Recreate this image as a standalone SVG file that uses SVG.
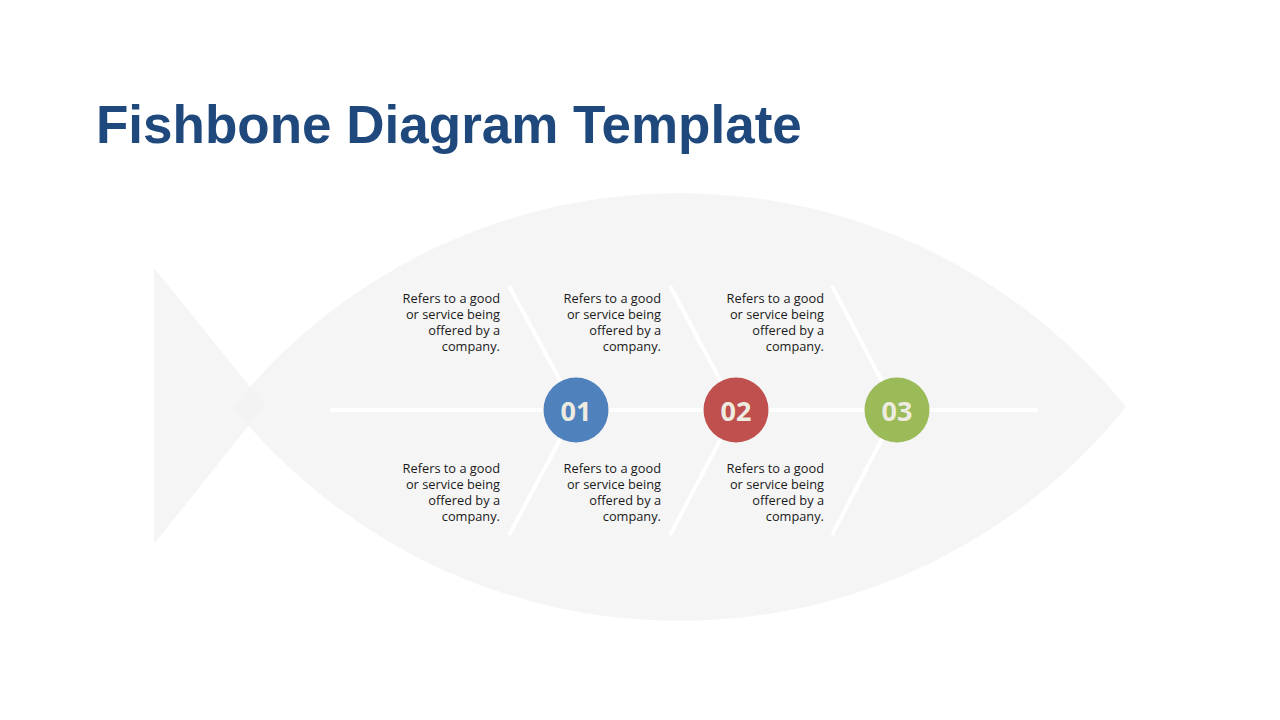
<svg xmlns="http://www.w3.org/2000/svg" width="1280" height="720" viewBox="0 0 1280 720">
<style>
.desc{font-family:"Open Sans","Noto Sans",sans-serif;font-size:12.8px;fill:#1a1a1a;text-anchor:end}
.num{font-family:"Open Sans","Noto Sans",sans-serif;font-size:27px;font-weight:bold;fill:#eeece1;text-anchor:middle}
.bone{stroke:#ffffff;stroke-width:4;fill:none}
</style>
<rect width="1280" height="720" fill="#ffffff"/>
<text x="96" y="143" font-family="'Liberation Sans',Arial,sans-serif" font-size="53" font-weight="bold" fill="#1f497d">Fishbone Diagram Template</text>
<g id="fish">
<path d="M233,407 A573,573 0 0 1 1126,407 A573,573 0 0 1 233,407 Z" fill="#f2f2f2" fill-opacity="0.75"/>
<polygon points="154,268 265,405 154,544" fill="#f2f2f2" fill-opacity="0.75"/>
</g>
<g id="connectors">
<line class="bone" x1="330" y1="410" x2="1038" y2="410"/>
<line class="bone" x1="509" y1="286" x2="576" y2="410"/>
<line class="bone" x1="509" y1="535" x2="576" y2="410"/>
<line class="bone" x1="670" y1="286" x2="736" y2="410"/>
<line class="bone" x1="670" y1="535" x2="736" y2="410"/>
<line class="bone" x1="832" y1="286" x2="897" y2="410"/>
<line class="bone" x1="832" y1="535" x2="897" y2="410"/>
</g>
<g id="node1">
<circle cx="576" cy="410" r="32.5" fill="#4f81bd"/>
<text class="num" x="576" y="421">01</text>
</g>
<g id="node2">
<circle cx="736" cy="410" r="32.5" fill="#c0504d"/>
<text class="num" x="736" y="421">02</text>
</g>
<g id="node3">
<circle cx="897" cy="410" r="32.5" fill="#9bbb59"/>
<text class="num" x="897" y="421">03</text>
</g>
<g id="text1top" class="desc">
<text x="500" y="303">Refers to a good</text>
<text x="500" y="319">or service being</text>
<text x="500" y="335">offered by a</text>
<text x="500" y="351">company.</text>
</g>
<g id="text2top" class="desc">
<text x="661" y="303">Refers to a good</text>
<text x="661" y="319">or service being</text>
<text x="661" y="335">offered by a</text>
<text x="661" y="351">company.</text>
</g>
<g id="text3top" class="desc">
<text x="824" y="303">Refers to a good</text>
<text x="824" y="319">or service being</text>
<text x="824" y="335">offered by a</text>
<text x="824" y="351">company.</text>
</g>
<g id="text1bottom" class="desc">
<text x="500" y="473">Refers to a good</text>
<text x="500" y="489">or service being</text>
<text x="500" y="505">offered by a</text>
<text x="500" y="521">company.</text>
</g>
<g id="text2bottom" class="desc">
<text x="661" y="473">Refers to a good</text>
<text x="661" y="489">or service being</text>
<text x="661" y="505">offered by a</text>
<text x="661" y="521">company.</text>
</g>
<g id="text3bottom" class="desc">
<text x="824" y="473">Refers to a good</text>
<text x="824" y="489">or service being</text>
<text x="824" y="505">offered by a</text>
<text x="824" y="521">company.</text>
</g>
</svg>
